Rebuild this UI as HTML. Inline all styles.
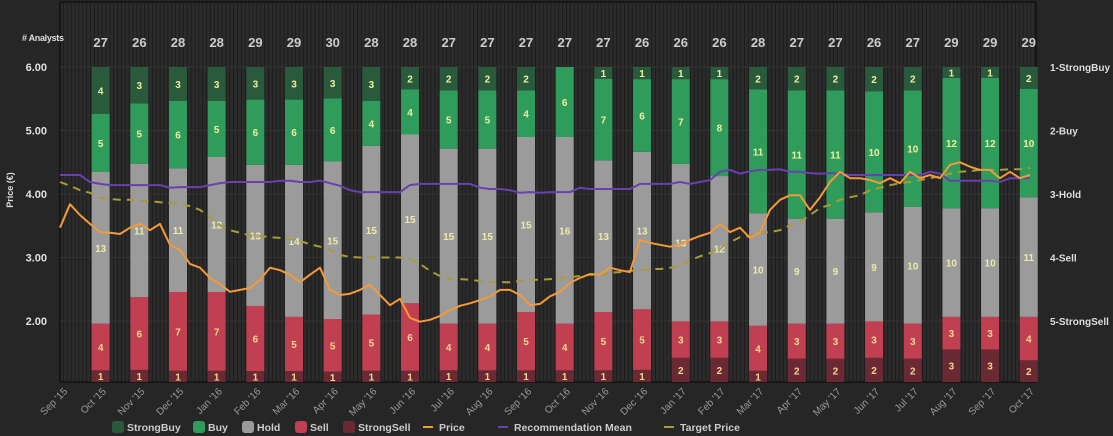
<!DOCTYPE html>
<html><head><meta charset="utf-8"><style>
html,body{margin:0;padding:0;background:#262626;}
svg{display:block;font-family:"Liberation Sans",sans-serif;}
</style></head><body>
<svg id="chart" width="1113" height="436" viewBox="0 0 1113 436" xmlns="http://www.w3.org/2000/svg">
<defs>
<pattern id="stripes" patternUnits="userSpaceOnUse" width="3.87" height="10" x="60">
<rect width="3.87" height="10" fill="#2b2b2b"/><rect x="2.9" width="1" height="10" fill="#1c1c1c"/>
</pattern>
</defs>
<rect x="0" y="0" width="1113" height="436" fill="#262626"/>
<rect x="60" y="2" width="976" height="380" fill="url(#stripes)" stroke="#111" stroke-width="1.5"/>
<g id="grid"></g>
<g id="bars"></g>
<g id="lines"></g>
<g id="axes"></g>
<g id="legend"></g>
</svg>
<script>
const monthLabels=["Sep '15","Oct '15","Nov '15","Dec '15","Jan '16","Feb '16","Mar '16","Apr '16","May '16","Jun '16","Jul '16","Aug '16","Sep '16","Oct '16","Nov '16","Dec '16","Jan '17","Feb '17","Mar '17","Apr '17","May '17","Jun '17","Jul '17","Aug '17","Sep '17","Oct '17"];
const strongBuy=[4,3,3,3,3,3,3,3,2,2,2,2,0,1,1,1,1,2,2,2,2,2,1,1,2];
const buy=[5,5,6,5,6,6,6,4,4,5,5,4,6,7,6,7,8,11,11,11,10,10,12,12,10];
const hold=[13,11,11,12,13,14,15,15,15,15,15,15,16,13,13,13,12,10,9,9,9,10,10,10,11];
const sell=[4,6,7,7,6,5,5,5,6,4,4,5,4,5,5,3,3,4,3,3,3,3,3,3,4];
const strongSell=[1,1,1,1,1,1,1,1,1,1,1,1,1,1,1,2,2,1,2,2,2,2,3,3,2];
const priceTicks=[2,3,4,5,6];
const ratingLabels=["1-StrongBuy","2-Buy","3-Hold","4-Sell","5-StrongSell"];
const seriesStart=-0.052; const seriesStep=0.2586;
const price=[3.47,3.84,3.67,3.53,3.40,3.39,3.37,3.47,3.53,3.43,3.53,3.20,3.12,2.90,2.84,2.68,2.58,2.46,2.49,2.52,2.65,2.84,2.80,2.73,2.61,2.73,2.84,2.49,2.41,2.43,2.49,2.57,2.41,2.25,2.35,2.05,1.99,2.02,2.08,2.17,2.24,2.28,2.33,2.39,2.49,2.49,2.41,2.25,2.27,2.39,2.46,2.60,2.68,2.74,2.73,2.84,2.80,2.77,3.28,3.23,3.20,3.17,3.20,3.28,3.34,3.39,3.53,3.40,3.47,3.31,3.40,3.75,3.91,3.98,3.98,3.75,3.95,4.19,4.35,4.25,4.25,4.22,4.17,4.25,4.17,4.35,4.25,4.30,4.25,4.46,4.50,4.43,4.38,4.38,4.25,4.35,4.25,4.30];
const target=[4.19,4.13,4.06,4.02,3.94,3.92,3.91,3.91,3.89,3.89,3.87,3.86,3.84,3.81,3.75,3.64,3.51,3.43,3.39,3.35,3.34,3.32,3.31,3.29,3.26,3.21,3.17,3.12,3.04,3.01,3.00,3.00,3.00,3.00,3.00,2.98,2.90,2.79,2.71,2.66,2.66,2.65,2.63,2.61,2.61,2.61,2.63,2.65,2.65,2.66,2.68,2.69,2.71,2.73,2.73,2.76,2.77,2.79,2.80,2.82,2.82,2.84,2.87,2.96,3.02,3.07,3.15,3.24,3.32,3.34,3.39,3.40,3.43,3.51,3.56,3.67,3.78,3.83,3.91,3.95,3.98,4.06,4.10,4.14,4.17,4.19,4.22,4.25,4.28,4.32,4.35,4.36,4.38,4.38,4.38,4.39,4.39,4.41];
const recMean=[2.70,2.70,2.70,2.81,2.84,2.86,2.86,2.86,2.86,2.86,2.86,2.90,2.89,2.89,2.89,2.86,2.83,2.81,2.81,2.81,2.81,2.81,2.79,2.79,2.81,2.81,2.79,2.83,2.87,2.94,2.97,2.97,2.97,2.97,2.97,2.86,2.84,2.84,2.84,2.84,2.84,2.84,2.90,2.92,2.92,2.94,2.98,2.97,2.98,2.97,2.97,2.97,2.90,2.92,2.92,2.92,2.92,2.92,2.84,2.84,2.84,2.84,2.81,2.84,2.81,2.78,2.65,2.62,2.68,2.64,2.62,2.62,2.61,2.65,2.65,2.67,2.68,2.67,2.68,2.70,2.70,2.70,2.70,2.70,2.70,2.70,2.70,2.65,2.68,2.79,2.79,2.79,2.79,2.79,2.81,2.75,2.75,2.75];

const NS="http://www.w3.org/2000/svg";
const X0=62, MONTH=38.67, PLOT_L=60, PLOT_R=1036, BAR_TOP=67, BAR_BOT=382;
function xScale(m){return X0+m*MONTH;}
function yPrice(p){return BAR_BOT-(p-1.04)*63.5;}
function yRating(r){return yPrice(7-r);}
function mk(tag,attrs,parent){const e=document.createElementNS(NS,tag);for(const k in attrs)e.setAttribute(k,attrs[k]);parent.appendChild(e);return e;}
const grid=document.getElementById('grid'),bars=document.getElementById('bars'),lines=document.getElementById('lines'),axes=document.getElementById('axes'),legend=document.getElementById('legend');

priceTicks.forEach(function(p){
  const y=yPrice(p);
  const g=mk('line',{x1:PLOT_L,x2:PLOT_R,y1:y,y2:y,stroke:'#333','stroke-width':1},grid);
  
  
  const t=mk('text',{x:47,y:y+4,'text-anchor':'end',fill:'#e0e0e0','font-size':11,'font-weight':'bold'},axes);
  t.textContent=p.toFixed(2);
  
  
});
ratingLabels.forEach(function(l,i){
  const t=mk('text',{x:1050,y:yRating(i+1)+4,fill:'#dddddd','font-size':10,'font-weight':'bold'},axes);
  t.textContent=l;
  
  
});
let yt=mk('text',{x:0,y:0,transform:'translate(13,190) rotate(-90)','text-anchor':'middle',fill:'#dddddd','font-size':9,'font-weight':'bold'},axes);
yt.textContent='Price (€)';


let at=mk('text',{x:22,y:41,fill:'#dddddd','font-size':9,'font-weight':'bold','letter-spacing':'-0.3'},axes);
at.textContent='# Analysts';



monthLabels.forEach(function(l,i){
  const x=xScale(i)+6;
  const t=mk('text',{x:x,y:392,transform:'rotate(-45 '+x+' 392)','text-anchor':'end',fill:'#9a9a9a','font-size':10},axes);
  t.textContent=l;
  
  
});

const segs=[[strongSell,'#6b2a33','#f0d890','strongsell'],[sell,'#c03f50','#f5d890','sell'],[hold,'#9b9b9b','#eeeaa8','hold'],[buy,'#2f9c5c','#eef0a0','buy'],[strongBuy,'#2a5a3c','#eef0a0','strongbuy']];
for(let i=0;i<strongBuy.length;i++){
  const total=strongBuy[i]+buy[i]+hold[i]+sell[i]+strongSell[i];
  const cx=xScale(i+1), w=18;
  let acc=0;
  segs.forEach(function(s){
    const v=s[0][i]; if(v<=0)return;
    const y2=BAR_BOT-acc/total*(BAR_BOT-BAR_TOP);
    acc+=v;
    const y1=BAR_BOT-acc/total*(BAR_BOT-BAR_TOP);
    const r=mk('rect',{x:cx-w/2,y:y1,width:w,height:y2-y1,fill:s[1]},bars);
    
    
    const t=mk('text',{x:cx,y:(y1+y2)/2+4,'text-anchor':'middle',fill:s[2],'font-size':10,'font-weight':'bold'},bars);
    t.textContent=v;
    
    
  });
  const tt=mk('text',{x:cx,y:47,'text-anchor':'middle',fill:'#cccccc','font-size':13,'font-weight':'bold'},bars);
  tt.textContent=total;
  
  
}

function linePath(arr,fy){return arr.map(function(v,i){return (i?'L':'M')+xScale(seriesStart+i*seriesStep).toFixed(1)+' '+fy(v).toFixed(1);}).join(' ');}
let tp=mk('path',{d:linePath(target,yPrice),fill:'none',stroke:'#a99a3c','stroke-width':2,'stroke-dasharray':'8,6'},lines);


let rm=mk('path',{d:linePath(recMean,yRating),fill:'none',stroke:'#6a3fb0','stroke-width':2},lines);


let pp=mk('path',{d:linePath(price,yPrice),fill:'none',stroke:'#f39a3a','stroke-width':2,'stroke-linejoin':'round'},lines);



const legItems=[['StrongBuy','box','#2a5a3c',112],['Buy','box','#2f9c5c',193],['Hold','box','#9b9b9b',242],['Sell','box','#c03f50',295],['StrongSell','box','#6b2a33',343],['Price','line','#f39a3a',423],['Recommendation Mean','line','#6a3fb0',498],['Target Price','line','#a99a3c',664]];
legItems.forEach(function(it){
  const g=mk('g',{},legend);
  
  
  if(it[1]==='box'){mk('rect',{x:it[3],y:421,width:12,height:12,rx:3,fill:it[2]},g);}
  else{mk('rect',{x:it[3],y:426,width:10,height:2,fill:it[2]},g);}
  const t=mk('text',{x:it[3]+(it[1]==='box'?15:16),y:431,fill:'#cccccc','font-size':10.5,'font-weight':'bold'},g);
  t.textContent=it[0];
});
</script>
</body></html>
